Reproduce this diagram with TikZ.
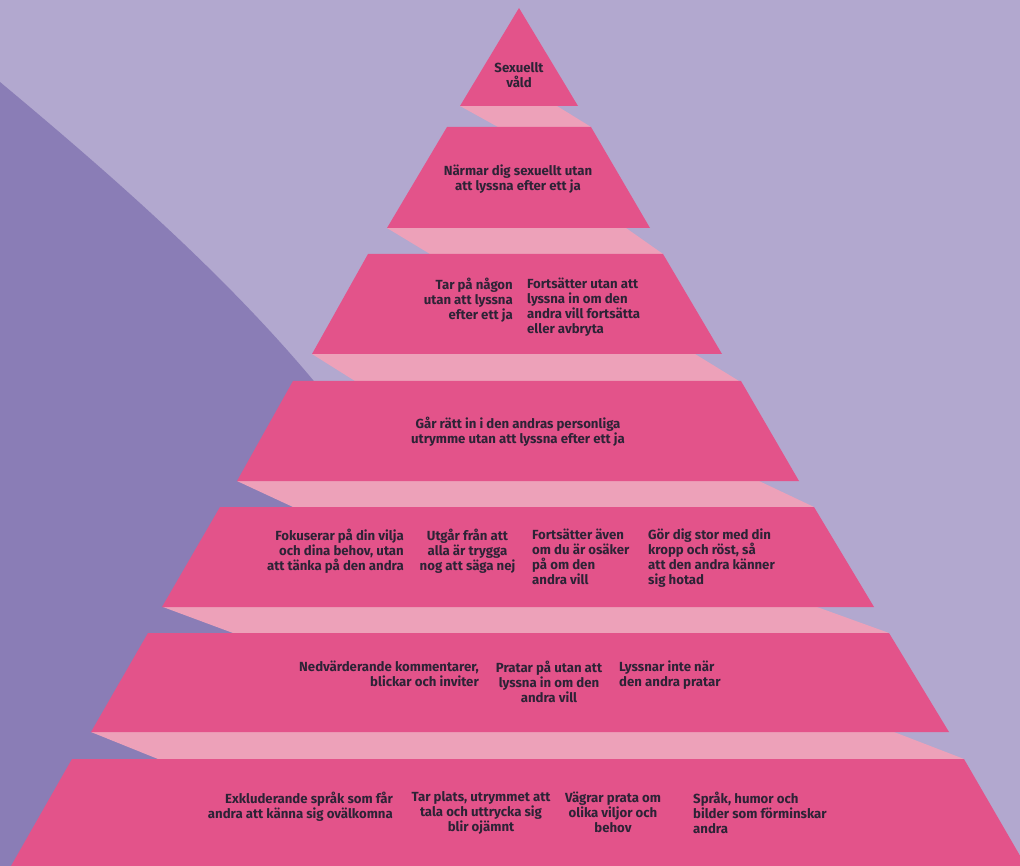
\documentclass[tikz,border=0pt]{standalone}
\usepackage{fontspec}
\setmainfont{Fira Sans}
\definecolor{bglight}{HTML}{B2A8CF}
\definecolor{bgdark}{HTML}{8A7DB6}
\definecolor{pyrpink}{HTML}{E3538A}
\definecolor{pyrlight}{HTML}{EDA1B9}
\definecolor{txtdark}{HTML}{2D2336}

\begin{document}
\begin{tikzpicture}[x=1pt,y=-1pt,
		tier/.style={fill=pyrpink},
		side/.style={fill=pyrlight},
		lbl/.style={inner sep=0pt, text=txtdark, font=\bfseries\fontsize{13.2}{15}\selectfont}]
			%%%%% START %%%%%
			
			\useasboundingbox (0, 0) rectangle (1020, 866);
			\clip (0, 0) rectangle (1020, 866);
			
			\fill[bglight] (0, 0) rectangle (1020, 866);
			\fill[bgdark] (0, 82) .. controls (115, 178) and (225, 275) .. (313, 380) -- (600, 720) -- (600, 866) -- (0, 866) -- cycle;
			
			% light faces between the steps
			\draw[side, draw=none] (460, 106) -- (557, 106) -- (591, 127) -- (498, 127) -- cycle;
			\draw[side, draw=none] (387, 228) -- (626, 228) -- (663, 254) -- (430, 254) -- cycle;
			\draw[side, draw=none] (312, 354) -- (695, 354) -- (739, 381) -- (355, 381) -- cycle;
			\draw[side, draw=none] (237, 481) -- (759, 481) -- (814, 507) -- (293, 507) -- cycle;
			\draw[side, draw=none] (163, 607) -- (817, 607) -- (889, 633) -- (233, 633) -- cycle;
			\draw[side, draw=none] (91, 732) -- (894, 732) -- (964, 759) -- (158, 759) -- cycle;
			
			% steps
			\draw[tier, draw=none] (519, 8) -- (578, 106) -- (460, 106) -- cycle;
			\draw[tier, draw=none] (447, 127) -- (591, 127) -- (650, 228) -- (387, 228) -- cycle;
			\draw[tier, draw=none] (368, 254) -- (663, 254) -- (722, 354) -- (312, 354) -- cycle;
			\draw[tier, draw=none] (293, 381) -- (741, 381) -- (799, 481) -- (237, 481) -- cycle;
			\draw[tier, draw=none] (220, 507) -- (814, 507) -- (874, 607) -- (162, 607) -- cycle;
			\draw[tier, draw=none] (148, 633) -- (889, 633) -- (949, 732) -- (91, 732) -- cycle;
			\draw[tier, draw=none] (72, 759) -- (964, 759) -- (1026, 866) -- (11, 866) -- cycle;
			
			% texts
			\node[lbl, align=center, anchor=north] (vald) at (519, 62.5) {Sexuellt\\våld};
			\node[lbl, align=center, anchor=north] (narmar) at (518, 164.5) {Närmar dig sexuellt utan\\att lyssna efter ett ja};
			
			\node[lbl, align=right, anchor=north east] (tarpa) at (513, 277.5) {Tar på någon\\utan att lyssna\\efter ett ja};
			\node[lbl, align=left, anchor=north west] (fortsatter) at (527, 277.5) {Fortsätter utan att\\lyssna in om den\\andra vill fortsätta\\eller avbryta};
			
			\node[lbl, align=center, anchor=north] (garratt) at (518, 416.5) {Går rätt in i den andras personliga\\utrymme utan att lyssna efter ett ja};
			
			\node[lbl, align=right, anchor=north east] (fokuserar) at (404, 528.5) {Fokuserar på din vilja\\och dina behov, utan\\att tänka på den andra};
			\node[lbl, align=center, anchor=north] (utgar) at (467.5, 528.5) {Utgår från att\\alla är trygga\\nog att säga nej};
			\node[lbl, align=left, anchor=north west] (osaker) at (532, 528.5) {Fortsätter även\\om du är osäker\\på om den\\andra vill};
			\node[lbl, align=left, anchor=north west] (stor) at (648, 528.5) {Gör dig stor med din\\kropp och röst, så\\att den andra känner\\sig hotad};
			
			\node[lbl, align=right, anchor=north east] (nedvard) at (479, 660.5) {Nedvärderande kommentarer,\\blickar och inviter};
			\node[lbl, align=center, anchor=north] (pratar) at (549, 660.5) {Pratar på utan att\\lyssna in om den\\andra vill};
			\node[lbl, align=left, anchor=north west] (lyssnar) at (619, 660.5) {Lyssnar inte när\\den andra pratar};
			
			\node[lbl, align=right, anchor=north east] (exkl) at (393, 791.5) {Exkluderande språk som får\\andra att känna sig ovälkomna};
			\node[lbl, align=center, anchor=north] (plats) at (481, 791.5) {Tar plats, utrymmet att\\tala och uttrycka sig\\blir ojämnt};
			\node[lbl, align=center, anchor=north] (vagrar) at (613, 791.5) {Vägrar prata om\\olika viljor och\\behov};
			\node[lbl, align=left, anchor=north west] (humor) at (693, 791.5) {Språk, humor och\\bilder som förminskar\\andra};
			
			%%%%% END %%%%%
		\end{tikzpicture}
\end{document}
